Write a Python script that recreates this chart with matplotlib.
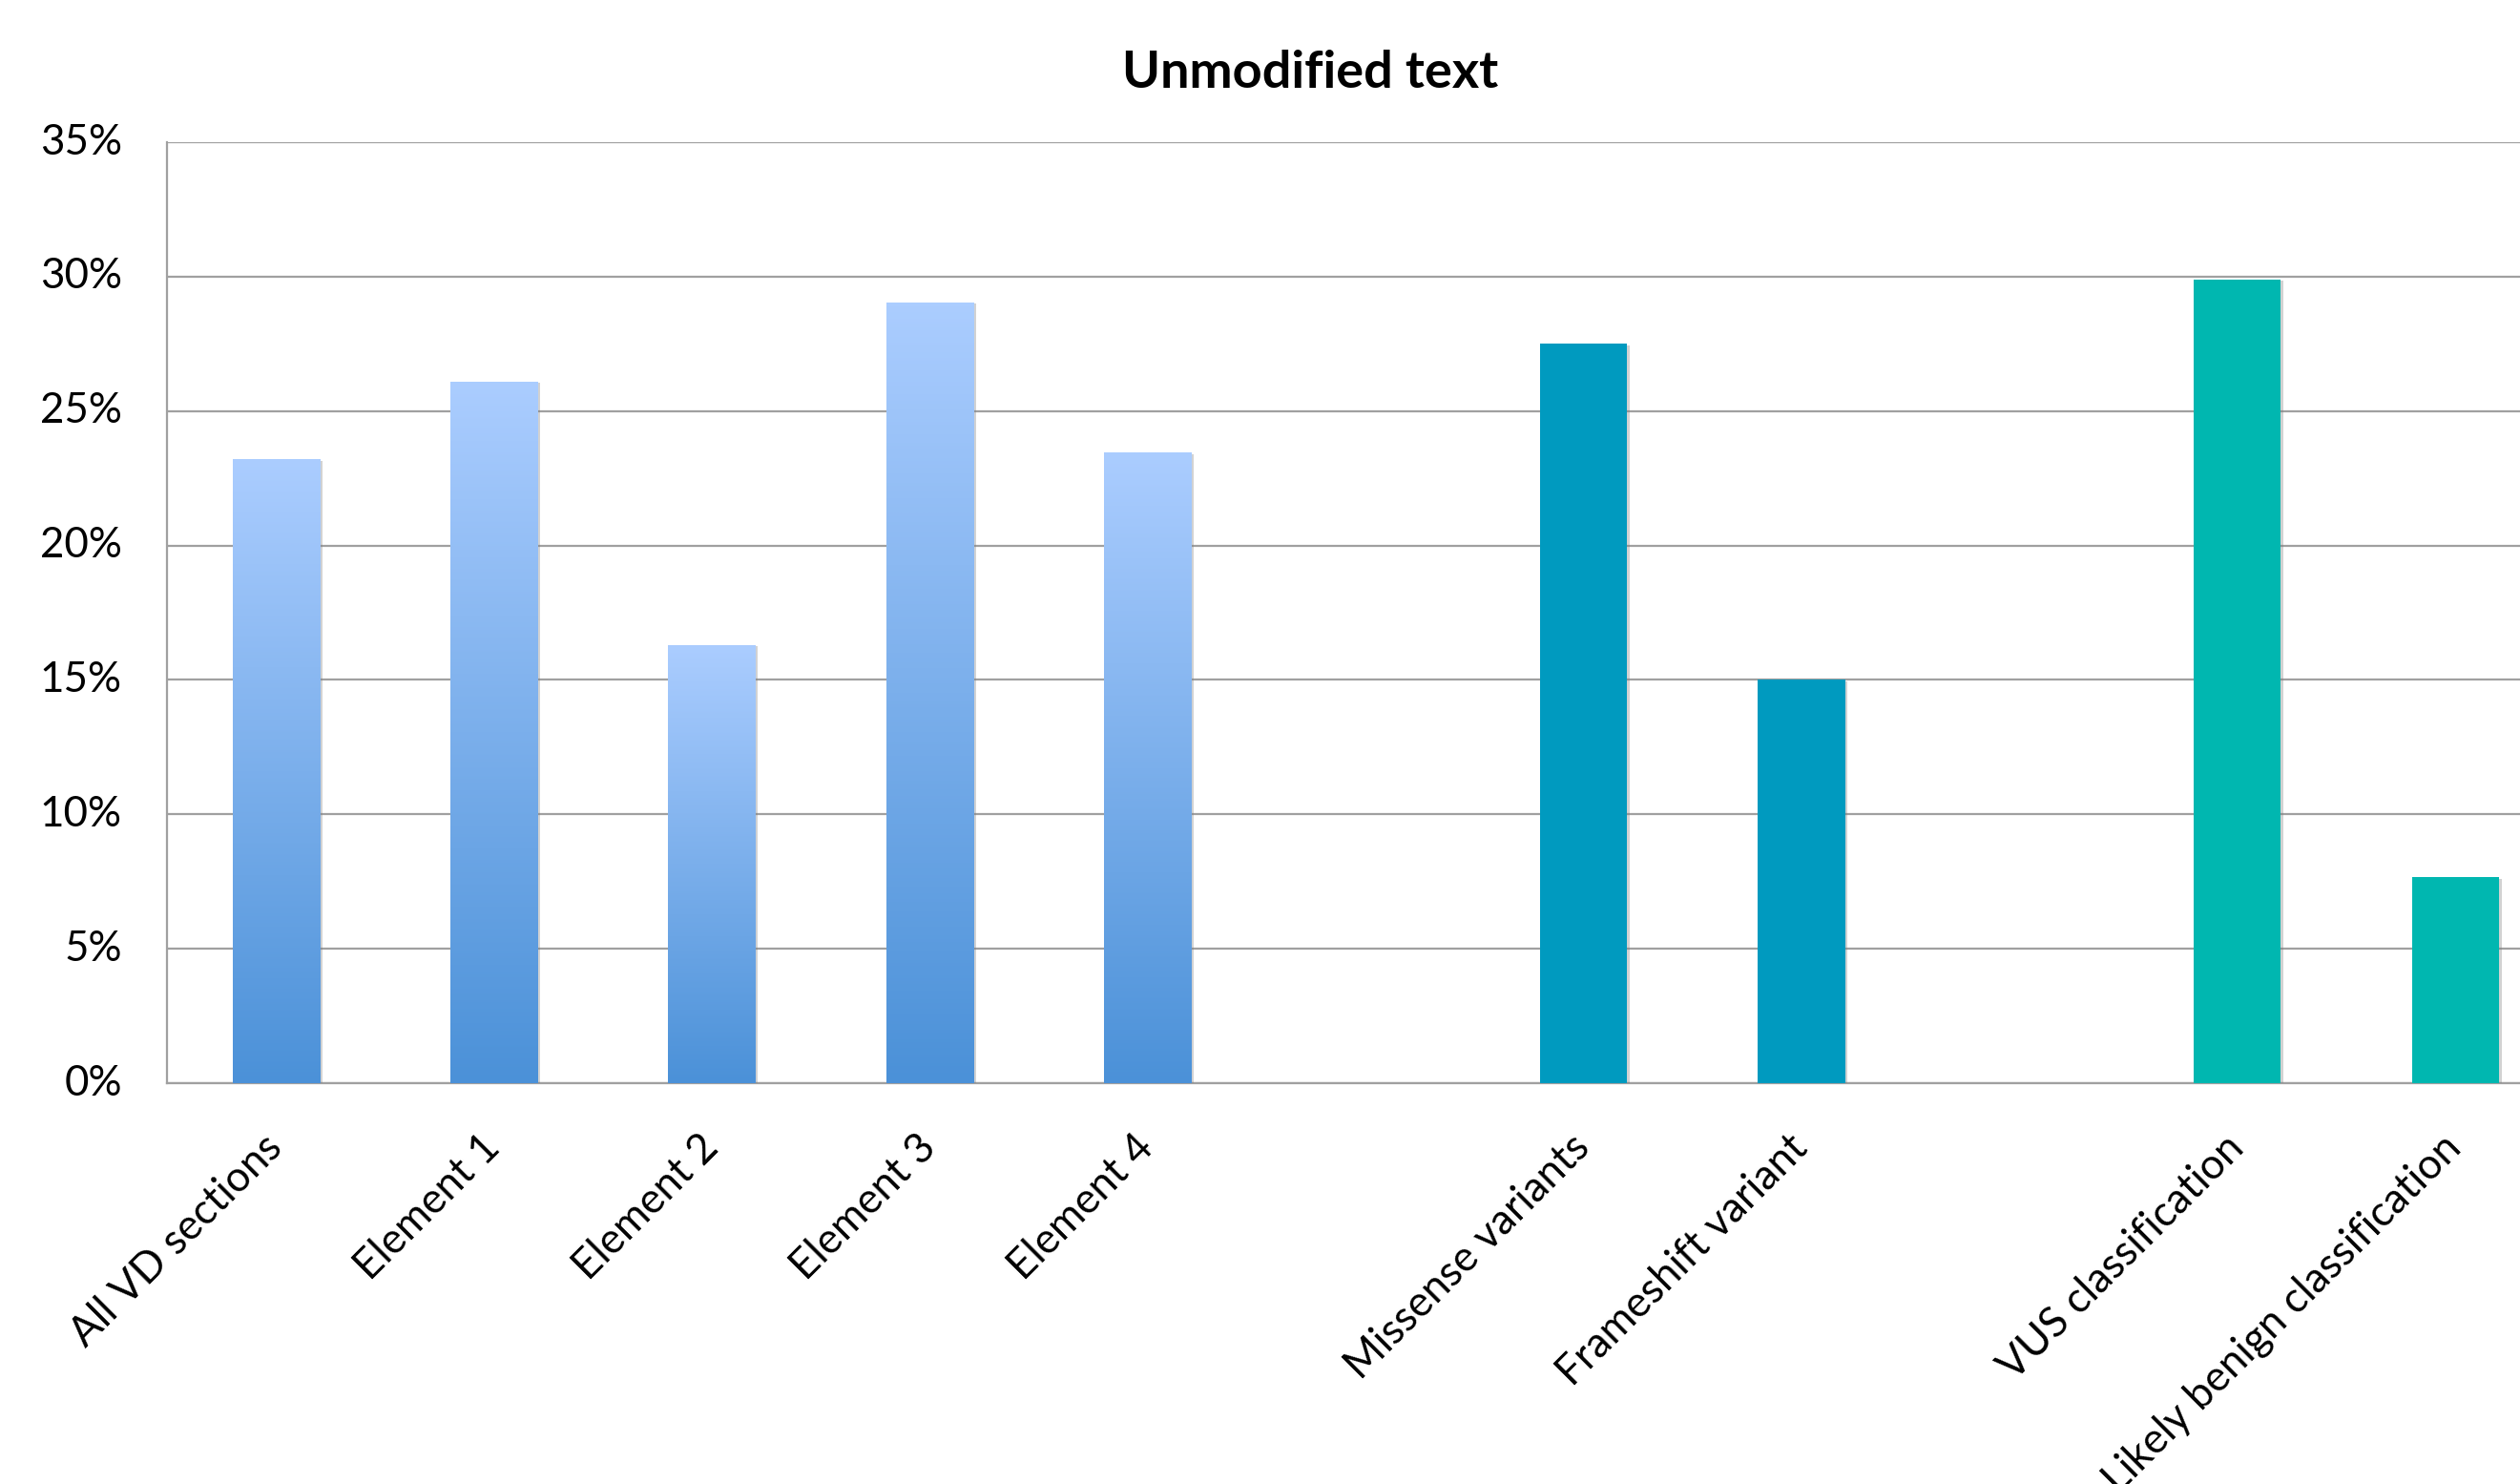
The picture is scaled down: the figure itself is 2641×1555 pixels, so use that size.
import numpy as np
import matplotlib
matplotlib.use("Agg")
import matplotlib.pyplot as plt
from matplotlib.colors import LinearSegmentedColormap
import matplotlib.patheffects as pe

# ---- data ----
categories = ["All VD sections", "Element 1", "Element 2", "Element 3", "Element 4", "",
              "Missense variants", "Frameshift variant", "",
              "VUS classification", "Likely benign classification"]
values = [23.2, 26.1, 16.3, 29.05, 23.45, None, 27.5, 15.0, None, 29.9, 7.67]
groups = ["section", "section", "section", "section", "section", None,
          "variant", "variant", None, "class", "class"]
yticks = [0, 5, 10, 15, 20, 25, 30, 35]
title = "Unmodified text"

grad_top = "#abcdff"
grad_bottom = "#4b91d8"
group_colors = {"variant": "#009abf", "class": "#00b7b0"}

plt.rcParams['font.family'] = ['Lato', 'DejaVu Sans']

W, H, DPI = 2641, 1555, 200
fig = plt.figure(figsize=(W / DPI, H / DPI), dpi=DPI)
left = 175 / W
bottom = (H - 1135) / H
top = (H - 149) / H
right = (175 + 11 * 228.4) / W
ax = fig.add_axes([left, bottom, right - left, top - bottom])

x = np.arange(len(categories))
bw = 0.40
cmap = LinearSegmentedColormap.from_list("g", [grad_bottom, grad_top])
grad = np.linspace(0, 1, 256).reshape(-1, 1)

shadow = [pe.SimplePatchShadow(offset=(1.0, -0.6), shadow_rgbFace="#808080", alpha=0.35), pe.Normal()]

for xi, v, g in zip(x, values, groups):
    if v is None:
        continue
    if g == "section":
        b = ax.bar(xi, v, width=bw, color=grad_bottom, zorder=3, path_effects=shadow)[0]
        im = ax.imshow(grad, extent=[xi - bw / 2, xi + bw / 2, 0, v], origin="lower",
                       aspect="auto", cmap=cmap, zorder=4, interpolation="bilinear")
        im.set_clip_path(b)
    else:
        ax.bar(xi, v, width=bw, color=group_colors[g], zorder=3, path_effects=shadow)

ax.set_xlim(-0.5, len(categories) - 0.5)
ax.set_ylim(0, 35)
ax.set_yticks(yticks)
ax.set_yticklabels([f"{t}%" for t in yticks], fontsize=15.8, va="center")
ax.set_xticks(x)
ax.set_xticklabels(categories, rotation=45, ha="right", va="center",
                   rotation_mode="anchor", fontsize=15.8)
ax.tick_params(axis="both", length=0)
ax.tick_params(axis="y", pad=17)
ax.tick_params(axis="x", pad=22)
for lbl in ax.get_yticklabels():
    lbl.set_y(lbl.get_position()[1])

ax.grid(axis="y", color="#a0a0a0", linewidth=0.8, zorder=0)
ax.set_axisbelow(True)
for s in ["top", "right"]:
    ax.spines[s].set_visible(False)
for s in ["left", "bottom"]:
    ax.spines[s].set_color("#a0a0a0")
    ax.spines[s].set_linewidth(0.8)

fig.text(1373 / W, 1 - 76 / H, title, ha="center", va="center",
         fontsize=19.5, fontweight="bold")

fig.savefig("out.png", dpi=DPI, facecolor="white")
